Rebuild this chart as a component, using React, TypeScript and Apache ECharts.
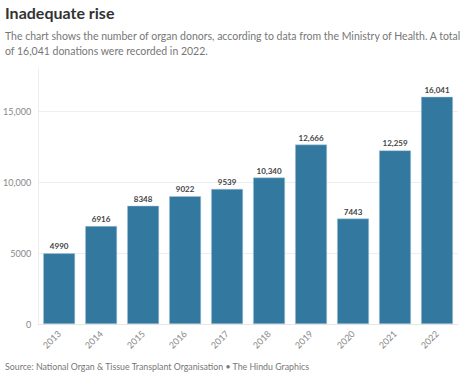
import React, { useEffect, useRef } from "react";
import * as echarts from "echarts";

const years = ["2013", "2014", "2015", "2016", "2017", "2018", "2019", "2020", "2021", "2022"];
const donations = [4990, 6916, 8348, 9022, 9539, 10340, 12666, 7443, 12259, 16041];
const yTicks = [0, 5000, 10000, 15000];

const fmt = (v: number) => (v >= 10000 ? v.toLocaleString("en-US") : String(v));
const FONT = "Lato";

export default function App() {
  const ref = useRef<HTMLDivElement>(null);
  useEffect(() => {
    if (!ref.current) return;
    const chart = echarts.init(ref.current, null, { renderer: "svg" });
    chart.setOption({
      animation: false,
      textStyle: { fontFamily: FONT },
      graphic: [
        {
          type: "text",
          left: 5,
          top: 4,
          style: { text: "Inadequate rise", fontFamily: FONT, fontSize: 16, fontWeight: "bold", fill: "#333" },
        },
        {
          type: "text",
          left: 5,
          top: 28,
          style: {
            text: "The chart shows the number of organ donors, according to data from the Ministry of Health. A total\nof 16,041 donations were recorded in 2022.",
            fontFamily: FONT,
            fontSize: 10.5,
            lineHeight: 15,
            fill: "#777",
          },
        },
        {
          type: "text",
          left: 5,
          top: 362,
          style: {
            text: "Source: National Organ & Tissue Transplant Organisation \u2022 The Hindu Graphics",
            fontFamily: FONT,
            fontSize: 8.8,
            fill: "#777",
          },
        },
      ],
      grid: { left: 38, right: 13, top: 69, bottom: 53, containLabel: false },
      xAxis: {
        type: "category",
        data: years,
        axisLine: { show: true, lineStyle: { color: "#e6e6e6" } },
        axisTick: { show: false },
        axisLabel: { rotate: 45, color: "#888", fontSize: 9, margin: 8, fontFamily: FONT },
      },
      yAxis: {
        type: "value",
        min: 0,
        max: 18000,
        interval: 5000,
        axisLine: { show: true, lineStyle: { color: "#eeeeee" } },
        axisTick: { show: false },
        splitLine: { show: true, showMaxLine: false, lineStyle: { color: "#eeeeee" } },
        axisLabel: {
          color: "#888",
          fontSize: 9,
          margin: 7,
          fontFamily: FONT,
          showMaxLabel: false,
          formatter: (v: number) => (yTicks.includes(v) ? fmt(v) : ""),
        },
      },
      series: [
        {
          type: "bar",
          data: donations,
          barCategoryGap: "24%",
          itemStyle: { color: "#33789f", borderColor: "rgba(170,200,220,0.8)", borderWidth: 0.6 },
          label: {
            show: true,
            position: "top",
            distance: 3,
            color: "#444",
            fontSize: 8,
            fontWeight: "bold",
            fontFamily: FONT,
            formatter: (p: any) => fmt(p.value),
          },
        },
      ],
    });
    return () => chart.dispose();
  }, []);
  return <div ref={ref} style={{ width: 471, height: 377, position: "absolute", left: 0, top: 0 }} />;
}
